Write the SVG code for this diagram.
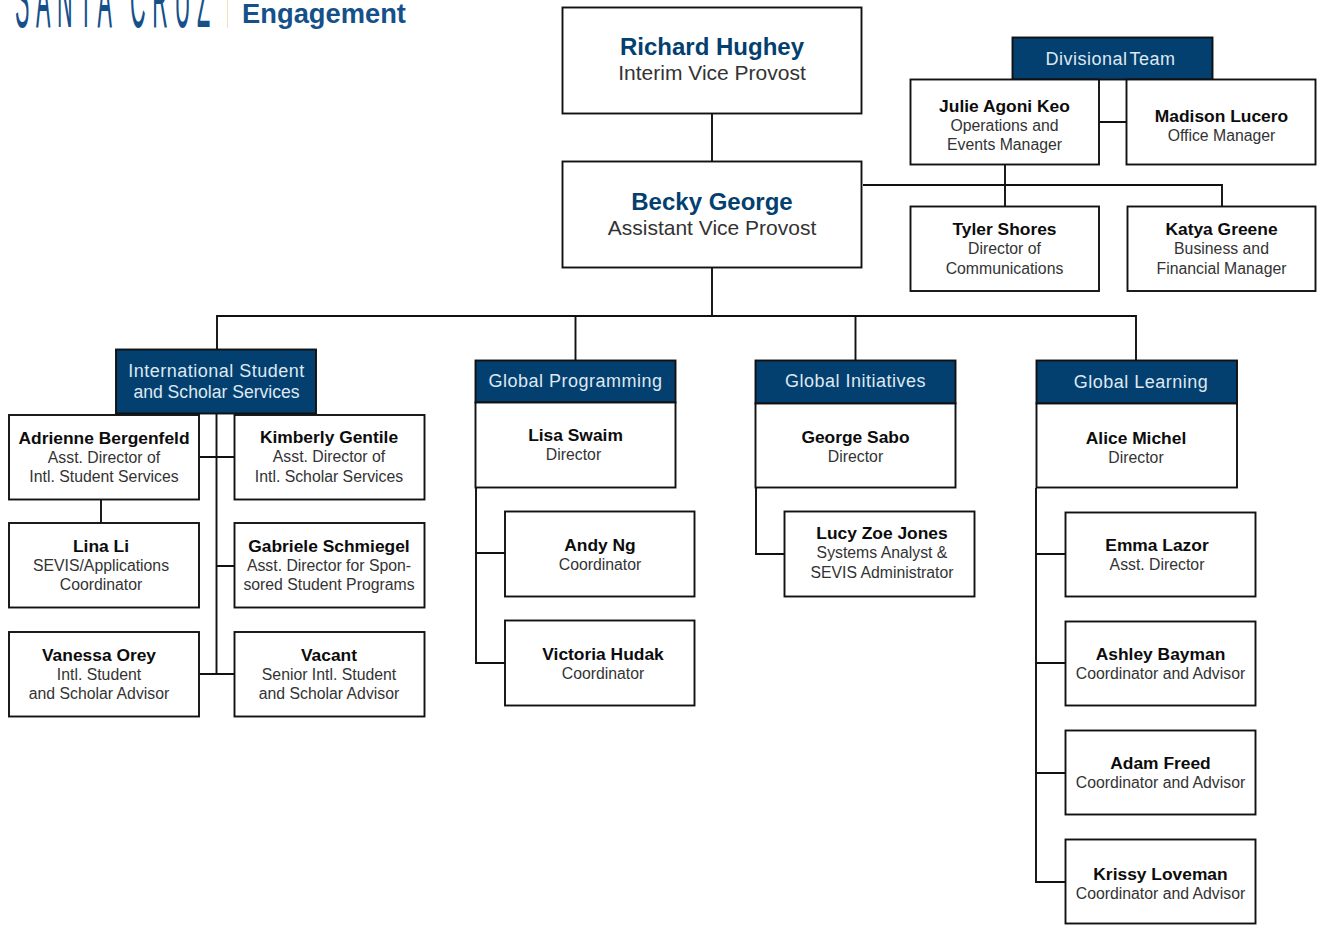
<svg xmlns="http://www.w3.org/2000/svg" width="1323" height="931" viewBox="0 0 1323 931">
<style>
text{font-family:"Liberation Sans",Arial,sans-serif;text-anchor:middle;fill:#333}
.box{fill:#fff;stroke:#111;stroke-width:1.9}
.hd{fill:#034070;stroke:#111;stroke-width:1.9}
.c{fill:none;stroke:#111;stroke-width:1.9}
.n{font-size:17.4px;font-weight:700;fill:#0c0c0c}
.r{font-size:15.8px}
.h{font-size:18px;fill:#dfe8f0;letter-spacing:.5px}
.tn{font-size:24px;font-weight:700;fill:#034070}
.tr{font-size:21px}
</style>
<rect width="1323" height="931" fill="#fff"/>
<g id="logo">
<text transform="translate(112.500 27) scale(.8 3)" font-size="27" textLength="244" lengthAdjust="spacing" style="fill:#15508a">SANTA CRUZ</text>
<rect x="227" y="0" width="1" height="28" fill="#f5dfb8"/>
<text x="324" y="22.500" font-size="27.300" font-weight="700" style="fill:#15508a">Engagement</text>
</g>
<g id="connectors">
<path class="c" d="M712 114V161M712 268V316M217 349V316H1136V360M575.500 316V360M855.500 316V360"/>
<path class="c" d="M863 185H1222V206M1005 165V206M1100 122H1127"/>
<path class="c" d="M216.500 414V674M200 457H234M200 674H234M216 566H234M101 500V523"/>
<path class="c" d="M476 488V663H505M476 553H505M756 488V554H785M1036 488V882H1065M1036 554H1065M1036 663H1065M1036 773H1065"/>
</g>
<g id="richard"><rect class="box" x="562.500" y="7.500" width="299" height="106"/><text class="tn" x="712" y="55">Richard Hughey</text><text class="tr" x="712" y="80">Interim Vice Provost</text></g>
<g id="becky"><rect class="box" x="562.500" y="161.500" width="299" height="106"/><text class="tn" x="712" y="210">Becky George</text><text class="tr" x="712" y="235">Assistant Vice Provost</text></g>
<g id="divisional"><rect class="hd" x="1012.500" y="37.500" width="200" height="42"/><text class="h" x="1110.500" y="65" word-spacing="-3">Divisional Team</text></g>
<g id="julie"><rect class="box" x="910.500" y="79.500" width="188.500" height="85"/><text class="n" x="1004.500" y="112">Julie Agoni Keo</text><text class="r" x="1004.500" y="131">Operations and</text><text class="r" x="1004.500" y="150">Events Manager</text></g>
<g id="madison"><rect class="box" x="1126.500" y="79.500" width="189" height="85"/><text class="n" x="1221.500" y="122">Madison Lucero</text><text class="r" x="1221.500" y="141">Office Manager</text></g>
<g id="tyler"><rect class="box" x="910.500" y="206.500" width="188.500" height="84.500"/><text class="n" x="1004.500" y="235">Tyler Shores</text><text class="r" x="1004.500" y="254">Director of</text><text class="r" x="1004.500" y="274">Communications</text></g>
<g id="katya"><rect class="box" x="1127.500" y="206.500" width="188" height="84.500"/><text class="n" x="1221.500" y="235">Katya Greene</text><text class="r" x="1221.500" y="254">Business and</text><text class="r" x="1221.500" y="274">Financial Manager</text></g>
<g id="isss"><rect class="hd" x="116" y="349.500" width="200" height="64"/><text class="h" x="216.500" y="377">International Student</text><text class="h" x="216.500" y="398" style="font-size:17.6px;letter-spacing:0">and Scholar Services</text></g>
<g id="adrienne"><rect class="box" x="9" y="415" width="190" height="84.500"/><text class="n" x="104" y="444">Adrienne Bergenfeld</text><text class="r" x="104" y="463">Asst. Director of</text><text class="r" x="104" y="482">Intl. Student Services</text></g>
<g id="kimberly"><rect class="box" x="234.500" y="415" width="190" height="84.500"/><text class="n" x="329" y="443">Kimberly Gentile</text><text class="r" x="329" y="462">Asst. Director of</text><text class="r" x="329" y="482">Intl. Scholar Services</text></g>
<g id="lina"><rect class="box" x="9" y="523" width="190" height="84.500"/><text class="n" x="101" y="552">Lina Li</text><text class="r" x="101" y="571">SEVIS/Applications</text><text class="r" x="101" y="590">Coordinator</text></g>
<g id="gabriele"><rect class="box" x="234.500" y="523" width="190" height="84.500"/><text class="n" x="329" y="552">Gabriele Schmiegel</text><text class="r" x="329" y="571">Asst. Director for Spon-</text><text class="r" x="329" y="590">sored Student Programs</text></g>
<g id="vanessa"><rect class="box" x="9" y="632" width="190" height="84.500"/><text class="n" x="99" y="661">Vanessa Orey</text><text class="r" x="99" y="680">Intl. Student</text><text class="r" x="99" y="699">and Scholar Advisor</text></g>
<g id="vacant"><rect class="box" x="234.500" y="632" width="190" height="84.500"/><text class="n" x="329" y="661">Vacant</text><text class="r" x="329" y="680">Senior Intl. Student</text><text class="r" x="329" y="699">and Scholar Advisor</text></g>
<g id="gp"><rect class="hd" x="475.500" y="360.500" width="200" height="42"/><text class="h" x="575.500" y="387">Global Programming</text></g>
<g id="lisa"><rect class="box" x="475.500" y="402.500" width="200" height="85"/><text class="n" x="575.500" y="441">Lisa Swaim</text><text class="r" x="573.500" y="460">Director</text></g>
<g id="andy"><rect class="box" x="505" y="511.500" width="189.500" height="85"/><text class="n" x="600" y="551">Andy Ng</text><text class="r" x="600" y="570">Coordinator</text></g>
<g id="victoria"><rect class="box" x="505" y="620.500" width="189.500" height="85"/><text class="n" x="603" y="660">Victoria Hudak</text><text class="r" x="603" y="679">Coordinator</text></g>
<g id="gi"><rect class="hd" x="755.500" y="360.500" width="200" height="43"/><text class="h" x="855.500" y="387">Global Initiatives</text></g>
<g id="george"><rect class="box" x="755.500" y="403.500" width="200" height="84"/><text class="n" x="855.500" y="443">George Sabo</text><text class="r" x="855.500" y="462">Director</text></g>
<g id="lucy"><rect class="box" x="784.500" y="511.500" width="190" height="85"/><text class="n" x="882" y="539">Lucy Zoe Jones</text><text class="r" x="882" y="558">Systems Analyst &amp;</text><text class="r" x="882" y="578">SEVIS Administrator</text></g>
<g id="gl"><rect class="hd" x="1036.500" y="360.500" width="200.500" height="43"/><text class="h" x="1141" y="388">Global Learning</text></g>
<g id="alice"><rect class="box" x="1036.500" y="403.500" width="200.500" height="84"/><text class="n" x="1136" y="444">Alice Michel</text><text class="r" x="1136" y="463">Director</text></g>
<g id="emma"><rect class="box" x="1065.500" y="512.500" width="190" height="84"/><text class="n" x="1157" y="551">Emma Lazor</text><text class="r" x="1157" y="570">Asst. Director</text></g>
<g id="ashley"><rect class="box" x="1065.500" y="621.500" width="190" height="84"/><text class="n" x="1160.500" y="660">Ashley Bayman</text><text class="r" x="1160.500" y="679">Coordinator and Advisor</text></g>
<g id="adam"><rect class="box" x="1065.500" y="730.500" width="190" height="84"/><text class="n" x="1160.500" y="769">Adam Freed</text><text class="r" x="1160.500" y="788">Coordinator and Advisor</text></g>
<g id="krissy"><rect class="box" x="1065.500" y="839.500" width="190" height="84"/><text class="n" x="1160.500" y="880">Krissy Loveman</text><text class="r" x="1160.500" y="899">Coordinator and Advisor</text></g>
</svg>
